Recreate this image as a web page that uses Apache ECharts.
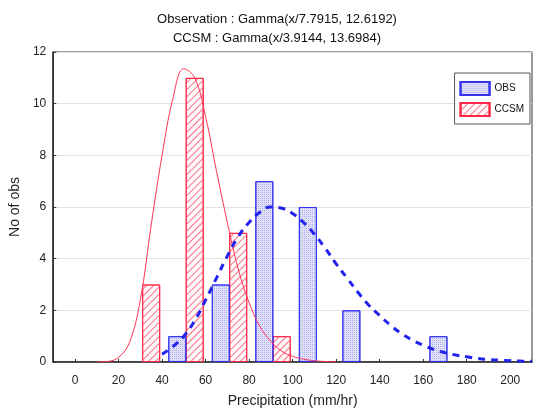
<!DOCTYPE html>
<html><head><meta charset="utf-8">
<script src="https://cdn.jsdelivr.net/npm/echarts@6/dist/echarts.min.js"></script>
<style>html,body{margin:0;padding:0;background:#fff}#c{width:534px;height:414px}</style>
</head><body><div id="c"></div>
<script>
// Histogram bars (bin centre, count)
var obsCenters = [47, 67, 87, 107, 127, 167];
var obsCounts  = [1, 3, 7, 6, 2, 1];
var ccsmCenters = [35, 55, 75, 95];
var ccsmCounts  = [3, 11, 5, 1];
// Fitted curves
var ccsmCurveX = [10, 15, 20, 25, 30, 35, 40, 45, 50, 55, 60, 65, 70, 75, 80, 85, 90, 95, 100, 105, 110, 115, 120];
var ccsmCurveY = [0, 0.02, 0.18, 0.75, 2.4, 5.3, 8.0, 10.2, 11.35, 11.0, 9.5, 7.4, 5.4, 3.6, 2.3, 1.37, 0.8, 0.42, 0.22, 0.11, 0.05, 0.02, 0.01];
var obsCurveX = [40, 45, 50, 55, 60, 65, 70, 75, 80, 85, 90, 95, 100, 105, 110, 115, 120, 125, 130, 135, 140, 145, 150, 155, 160, 165, 170, 175, 180, 185, 190, 195, 200, 205, 210];
var obsCurveY = [0.3, 0.6, 1.0, 1.6, 2.4, 3.25, 4.1, 4.85, 5.4, 5.8, 6.0, 5.95, 5.75, 5.4, 4.95, 4.4, 3.8, 3.25, 2.7, 2.2, 1.8, 1.42, 1.1, 0.85, 0.65, 0.48, 0.36, 0.27, 0.2, 0.14, 0.1, 0.07, 0.05, 0.035, 0.025];
var xTicks = [0, 20, 40, 60, 80, 100, 120, 140, 160, 180, 200];
var titleLines = ['Observation : Gamma(x/7.7915, 12.6192)', 'CCSM : Gamma(x/3.9144, 13.6984)'];

function pairs(xs, ys){ return xs.map(function(x,i){ return [x, ys[i]]; }); }

var font = '"Liberation Sans", Arial, sans-serif';
var chart = echarts.init(document.getElementById('c'), null, {renderer:'canvas'});
chart.setOption({
  animation: false,
  title: {
    text: titleLines.join('\n'), left: 272, top: 5, textAlign: 'center',
    textStyle: {fontFamily: font, fontSize: 13, fontWeight: 'normal', color: '#111', lineHeight: 19}
  },
  grid: {left: 53, right: 2, top: 52, bottom: 52, show: true, borderColor: '#333', borderWidth: 1, backgroundColor: 'transparent'},
  legend: {
    data: ['OBS', 'CCSM'], orient: 'vertical', right: 4, top: 73, icon: 'rect',
    itemWidth: 29, itemHeight: 13, itemGap: 6,
    backgroundColor: '#fff', borderColor: '#555', borderWidth: 1, borderRadius: 0, padding: [8, 6, 7, 5],
    textStyle: {fontFamily: font, fontSize: 10, color: '#111'}
  },
  xAxis: {
    type: 'value', min: -10, max: 210,
    name: 'Precipitation (mm/hr)', nameLocation: 'middle', nameGap: 32,
    nameTextStyle: {fontFamily: font, fontSize: 14, color: '#222'},
    axisLine: {show: true, onZero: false, lineStyle: {color: '#222', width: 1.5}},
    axisTick: {show: true, inside: true, length: 3, customValues: xTicks, lineStyle: {color: '#333'}},
    axisLabel: {customValues: xTicks, fontFamily: font, fontSize: 12, color: '#222', margin: 13},
    splitLine: {show: false}
  },
  yAxis: {
    type: 'value', min: 0, max: 12, interval: 2,
    name: 'No of obs', nameLocation: 'middle', nameGap: 25,
    nameTextStyle: {fontFamily: font, fontSize: 14, color: '#222'},
    axisLine: {show: true, onZero: false, lineStyle: {color: '#222', width: 1.5}},
    axisTick: {show: true, inside: true, length: 3, lineStyle: {color: '#333'}},
    axisLabel: {fontFamily: font, fontSize: 12, color: '#222', margin: 7},
    splitLine: {show: true, lineStyle: {color: '#e2e2e2', width: 1}}
  },
  series: [
    {
      name: 'CCSM', type: 'bar', barWidth: 18, barGap: '-100%',
      data: pairs(ccsmCenters, ccsmCounts),
      itemStyle: {
        color: '#fffafa', borderColor: '#ff2a4a', borderWidth: 1,
        decal: {symbol: 'rect', color: '#ff7088', dashArrayX: [1, 0], dashArrayY: [1, 4], rotation: -Math.PI / 4, symbolSize: 1}
      },
      z: 2
    },
    {
      name: 'OBS', type: 'bar', barWidth: 18, barGap: '-100%',
      data: pairs(obsCenters, obsCounts),
      itemStyle: {
        color: '#e0e0f8', borderColor: '#3333ee', borderWidth: 1,
        decal: {symbol: 'rect', color: 'rgba(120,120,225,0.45)', dashArrayX: [1, 1], dashArrayY: [1, 1], symbolSize: 1}
      },
      z: 2
    },
    {
      name: 'CCSM fit', type: 'line', data: pairs(ccsmCurveX, ccsmCurveY),
      smooth: 0.4, symbol: 'none', lineStyle: {color: '#ff3355', width: 1}, z: 3
    },
    {
      name: 'OBS fit', type: 'line', data: pairs(obsCurveX, obsCurveY),
      smooth: true, symbol: 'none', lineStyle: {color: '#2222ee', width: 3, type: [7, 6]}, z: 3
    }
  ]
});
</script></body></html>
